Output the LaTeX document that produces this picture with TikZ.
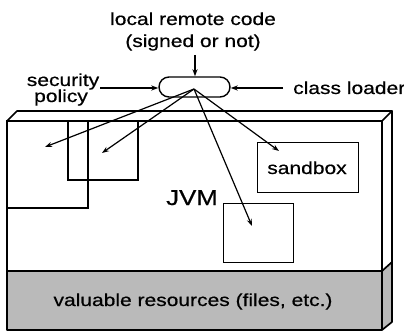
\documentclass[tikz,border=0pt]{standalone}
\usepackage{fontspec}
\setmainfont{Liberation Sans}[FakeStretch=1.2, FakeBold=0.6]
\usetikzlibrary{arrows.meta}
\begin{document}
\begin{tikzpicture}[x=1pt,y=-1pt,
  lbl/.style={inner sep=0pt, anchor=base, font=\fontsize{17.5}{20}\selectfont},
  edge/.style={line width=1.7pt, line join=round},
  inner/.style={line width=1.3pt},
  arr/.style={line width=1.2pt, -{Stealth[length=7pt,width=5pt]}},
  band/.style={fill=black!27}]
\useasboundingbox (0,0) rectangle (404,334);
% box faces
\fill[band] (7,271) rectangle (382,330);
\fill[band] (382,271) -- (392,262) -- (392,322) -- (382,330) -- cycle;
\draw[edge] (7,121) rectangle (382,330);
\draw[edge] (7,121) -- (17,111) -- (392,111) -- (382,121);
\draw[edge] (392,111) -- (392,322) -- (382,330);
\draw[edge] (7,271) -- (382,271) -- (392,262);
% inner rectangles
\draw[inner] (7,121) rectangle (88,208);
\draw[inner] (68,121) rectangle (138,180);
\node[inner, draw, minimum width=101pt, minimum height=50pt, anchor=north west] (sbx) at (257,142) {};
\node[inner, draw, minimum width=70pt, minimum height=59pt, anchor=north west] (jvmbox) at (223,203) {};
% labels
\node[lbl] (code1) at (193,25) {local remote code};
\node[lbl] (code2) at (193,47) {(signed or not)};
\node[lbl] (sec1) at (63,86) {security};
\node[lbl] (sec2) at (61,102) {policy};
\node[lbl, anchor=base west] (cl) at (293,94) {class loader};
\node[lbl] (sbtext) at (307,174) {sandbox};
\node[lbl, font=\fontsize{21.5}{24}\selectfont] (jvm) at (192,205) {JVM};
\node[lbl] (res) at (193,306) {valuable resources (files, etc.)};
% capsule
\node[draw, line width=1.4pt, rounded corners=10pt, minimum width=71pt, minimum height=20pt, inner sep=0pt] (cap) at (194.5,87) {};
\coordinate (src) at (194,89);
\coordinate (topin) at (195,55);
\coordinate (leftin) at (100,88);
\coordinate (rightin) at (283,88);
\coordinate (tA) at (45,147);
\coordinate (tB) at (102,153);
\coordinate (tJ) at (252,226);
\coordinate (tS) at (279,151);
% arrows
\draw[arr] (topin) -- (cap.north -| topin);
\draw[arr] (leftin) -- (cap.west |- leftin);
\draw[arr] (rightin) -- (cap.east |- rightin);
\draw[arr] (src) -- (tA);
\draw[arr] (src) -- (tB);
\draw[arr] (src) -- (tJ);
\draw[arr] (src) -- (tS);
\end{tikzpicture}
\end{document}
